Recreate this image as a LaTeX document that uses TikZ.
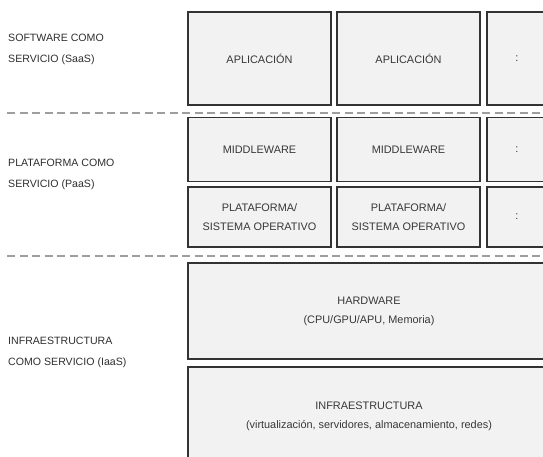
\documentclass[tikz,border=0pt]{standalone}
\usepackage{fontspec}
\setmainfont{Liberation Sans}
\begin{document}
\begin{tikzpicture}[x=1pt,y=-1pt,
  layer/.style={draw=black!80,line width=1.3pt,fill=black!5,inner sep=0pt,align=center,
    font=\fontsize{10.9}{19}\selectfont,text=black!78},
  lbl/.style={anchor=west,align=left,inner sep=0pt,font=\fontsize{10.6}{20.5}\selectfont,text=black!82},
  sep/.style={draw=black!38,line width=1.1pt,dash pattern=on 8pt off 4.5pt}]
\useasboundingbox (0,0) rectangle (543,457);
\begin{scope}
\clip (0,0) rectangle (543,457);
% SaaS row
\node[layer,minimum width=143,minimum height=93] (app1) at (259.5,58.5) {APLICACIÓN};
\node[layer,minimum width=143,minimum height=93] (app2) at (408.5,58.5) {APLICACIÓN};
\node[layer,minimum width=60,minimum height=93] (app3) at (517,58.5) {:};
% PaaS rows
\node[layer,minimum width=143,minimum height=64] (mid1) at (259.5,149.5) {MIDDLEWARE};
\node[layer,minimum width=143,minimum height=64] (mid2) at (408.5,149.5) {MIDDLEWARE};
\node[layer,minimum width=60,minimum height=64] (mid3) at (517,149.5) {:};
\node[layer,minimum width=143,minimum height=60] (pla1) at (259.5,217) {PLATAFORMA/\\SISTEMA OPERATIVO};
\node[layer,minimum width=143,minimum height=60] (pla2) at (408.5,217) {PLATAFORMA/\\SISTEMA OPERATIVO};
\node[layer,minimum width=60,minimum height=60] (pla3) at (517,217) {:};
% IaaS rows
\node[layer,minimum width=362,minimum height=96] (hw) at (369,311) {HARDWARE\\(CPU/GPU/APU, Memoria)};
\node[layer,minimum width=362,minimum height=110] (inf) at (369,422) {};
\node[layer,draw=none,fill=none] (inftext) at (369,416.5) {INFRAESTRUCTURA\\(virtualización, servidores, almacenamiento, redes)};
% separators
\coordinate (s1a) at (7,113); \coordinate (s1b) at (543,113);
\coordinate (s2a) at (7,256); \coordinate (s2b) at (543,256);
\draw[sep] (s1a) -- (s1b);
\draw[sep] (s2a) -- (s2b);
\end{scope}
% labels
\node[lbl] (saas) at (8,49.5) {SOFTWARE COMO\\SERVICIO (SaaS)};
\node[lbl] (paas) at (8,174.5) {PLATAFORMA COMO\\SERVICIO (PaaS)};
\node[lbl] (iaas) at (8,352.5) {INFRAESTRUCTURA\\COMO SERVICIO (IaaS)};
\end{tikzpicture}
\end{document}
